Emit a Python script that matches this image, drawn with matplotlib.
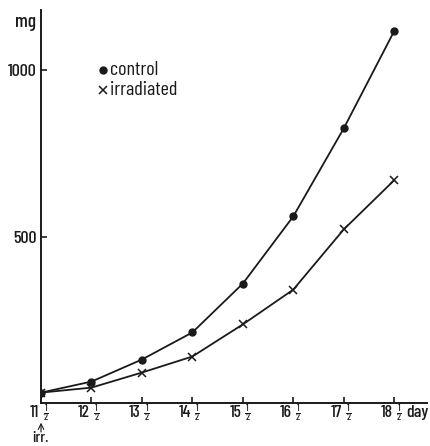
import matplotlib
matplotlib.use("Agg")
import matplotlib.pyplot as plt
from matplotlib import font_manager

# ---- data ----
days = [11.5, 12.5, 13.5, 14.5, 15.5, 16.5, 17.5, 18.5]
day_labels = ["11", "12", "13", "14", "15", "16", "17", "18"]
control = [36, 69, 135, 216, 362, 563, 826, 1117]
irradiated = [36, 51, 96, 144, 240, 344, 524, 671]
yticks = [500, 1000]
ytick_labels = ["500", "1000"]

names = {f.name for f in font_manager.fontManager.ttflist}
fam = "DejaVu Sans"
for cand in ["Barlow Condensed", "Archivo Narrow", "Asap Condensed"]:
    if cand in names:
        fam = cand
        break
plt.rcParams["font.family"] = [fam, "DejaVu Sans"]
plt.rcParams["font.weight"] = "medium"

fig = plt.figure(figsize=(4.30, 4.46), dpi=100)
ax = fig.add_axes([41/430, 43/446, 386/430, 393/446])

ink = "#1a1a1a"
ax.plot(days, control, color=ink, lw=1.3, marker="o", ms=5,
        markerfacecolor=ink, markeredgecolor=ink)
ax.plot(days, irradiated, color=ink, lw=1.3, marker="x", ms=6,
        markeredgewidth=1.1)

ax.set_xlim(11.5, 19.15)
ax.set_ylim(5, 1180)
for s in ["top", "right"]:
    ax.spines[s].set_visible(False)
for s in ["left", "bottom"]:
    ax.spines[s].set_linewidth(1.4)
    ax.spines[s].set_color(ink)

ax.set_xticks(days)
ax.set_xticklabels([])
ax.set_yticks(yticks)
ax.set_yticklabels(ytick_labels, fontsize=13, color=ink)
ax.tick_params(axis="both", direction="in", length=4, width=1.2, color=ink, pad=3)

# x tick labels built as integer part + stacked 1/2
xt = ax.get_xaxis_transform()
bar_y = -0.0245
for d, lab in zip(days, day_labels):
    ax.text(d - 0.03, -0.024, lab, transform=xt, ha="right", va="center",
            fontsize=12.5, color=ink, clip_on=False)
    ax.text(d + 0.095, bar_y + 0.003, "1", transform=xt, ha="center",
            va="baseline", fontsize=7, color=ink, clip_on=False)
    ax.text(d + 0.095, bar_y - 0.001, "2", transform=xt, ha="center",
            va="top", fontsize=7, color=ink, clip_on=False)
    ax.plot([d + 0.05, d + 0.14], [bar_y, bar_y], transform=xt, color=ink,
            lw=0.7, clip_on=False)

ax.text(-0.012, 0.992, "mg", transform=ax.transAxes, ha="right", va="top",
        fontsize=14, color=ink)
ax.text(18.74, -0.024, "day", transform=xt, ha="left", va="center",
        fontsize=13, color=ink)
ax.annotate("", xy=(11.5, -0.05), xycoords=xt,
            xytext=(11.5, -0.074), textcoords=xt,
            arrowprops=dict(arrowstyle="->", color=ink, lw=0.8,
                            shrinkA=0, shrinkB=0))
ax.text(11.5, -0.071, "irr.", transform=xt, ha="center", va="top",
        fontsize=11.5, color=ink)

ax.plot([12.73], [1000], marker="o", ms=5, color=ink, clip_on=False)
ax.text(12.86, 1000, "control", va="center", ha="left", fontsize=14.5,
        fontweight="normal", color=ink)
ax.plot([12.73], [942], marker="x", ms=6, mew=1.1, color=ink, clip_on=False)
ax.text(12.86, 942, "irradiated", va="center", ha="left", fontsize=14.5,
        fontweight="normal", color=ink)

fig.savefig("out.png", dpi=100)
